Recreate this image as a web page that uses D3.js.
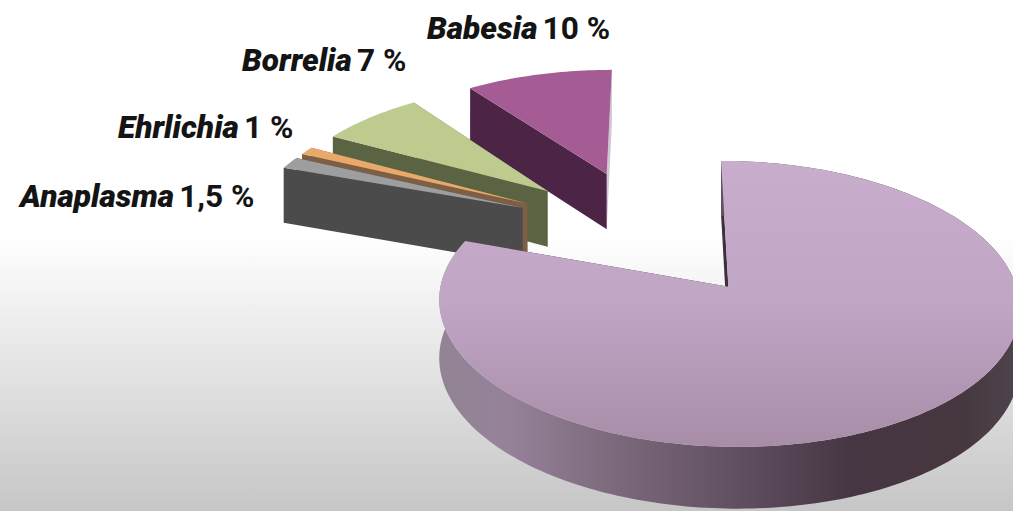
<!DOCTYPE html>
<html>
<head>
<meta charset="utf-8">
<script src="https://cdn.jsdelivr.net/npm/d3@7/dist/d3.min.js"></script>
<style>
  html, body { margin: 0; padding: 0; background: #fff; }
  svg { display: block; }
  text { font-family: Roboto, "Liberation Sans", sans-serif; font-weight: 900; fill: #141414; }
</style>
</head>
<body>
<svg id="chart" width="1013" height="511"></svg>
<script>
// Pathogen shares, clockwise from twelve o'clock
const categories = ["", "Anaplasma", "Ehrlichia", "Borrelia", "Babesia"];
const shares = [80.5, 1.5, 1, 7, 10];
const shareLabels = ["", "1,5 %", "1 %", "7 %", "10 %"];

const topColors = ["url(#topMain)", "#9c9ea0", "#e8a96a", "#bdcb8f", "#a55c94"];
const wallColors = ["#3f2f3c", "#4b4b4b", "#7c5f45", "#5a6443", "#4b2446"];
const endWallColors = ["#3f2f3c", "#5b4a44", "#7c5f45", "#686f4e", "#cfc7d4"];

const width = 1013, height = 511;

// Perspective camera over the ground plane of the pie
const vanishX = 660, horizonBase = 287, radiusX = 288, radiusY = 141, foreshorten = 0.119;
const pieCentre = [-0.05, -0.41], explode = 0.5, depth = 58;

const perspective = v => 1 / (1 - foreshorten * v);
const project = ([u, v], lowered = false) => {
  const w = perspective(v);
  return [vanishX + radiusX * u * w,
          horizonBase + radiusY * v * w + (lowered ? depth * Math.sqrt(w) : 0)];
};

const svg = d3.select("#chart");
const defs = svg.append("defs");

const addGradient = (id, attrs, stops) => {
  const g = defs.append("linearGradient").attr("id", id).attr("gradientUnits", "userSpaceOnUse");
  Object.entries(attrs).forEach(([k, v]) => g.attr(k, v));
  stops.forEach(([o, c]) => g.append("stop").attr("offset", o).attr("stop-color", c));
};
addGradient("backdrop", {x1: 0, x2: 0, y1: 235, y2: 511},
  [[0, "#ffffff"], [1, "#c6c6c6"]]);
addGradient("topMain", {x1: 0, x2: 0, y1: 161, y2: 447},
  [[0, "#c9adcd"], [0.5, "#c0a5c5"], [1, "#a88da8"]]);
addGradient("wallMain", {x1: 439, x2: 1013, y1: 0, y2: 0},
  [[0, "#928493"], [0.12, "#95829a"], [0.3, "#7d6a7c"], [0.5, "#635263"],
   [0.72, "#463643"], [0.9, "#45363f"], [1, "#4d434c"]]);

svg.append("rect").attr("width", width).attr("height", height).attr("fill", "url(#backdrop)");

const slices = d3.pie().sort(null).value(d => d).startAngle(0).endAngle(2 * Math.PI)(shares);

const outline = d3.line();
const closed = pts => outline(pts) + "Z";

// Slices are painted from the farthest to the nearest so nearer walls overlap
const paintOrder = [4, 3, 2, 1, 0];

paintOrder.forEach(i => {
  const s = slices[i];
  const mid = (s.startAngle + s.endAngle) / 2;
  const apex = [pieCentre[0] + explode * Math.sin(mid), pieCentre[1] - explode * Math.cos(mid)];
  const rim = a => [apex[0] + Math.sin(a), apex[1] - Math.cos(a)];
  const steps = Math.max(4, Math.ceil((s.endAngle - s.startAngle) / 0.02));
  const angles = d3.range(steps + 1).map(k => s.startAngle + (s.endAngle - s.startAngle) * k / steps);
  const group = svg.append("g").attr("class", "slice");

  // Radial wall at the far clockwise edge
  const end = rim(s.endAngle);
  group.append("path")
    .attr("d", closed([project(apex), project(end), project(end, true), project(apex, true)]))
    .attr("fill", endWallColors[i]);

  // Radial wall at the near edge
  const start = rim(s.startAngle);
  group.append("path")
    .attr("d", closed([project(apex), project(start), project(start, true), project(apex, true)]))
    .attr("fill", wallColors[i]);

  // Curved outer wall of the large slice
  if (i === 0) {
    const edge = angles.map(rim);
    group.append("path")
      .attr("d", closed(edge.map(p => project(p)).concat(edge.map(p => project(p, true)).reverse())))
      .attr("fill", "url(#wallMain)");
  }

  // Top face
  group.append("path")
    .attr("d", closed([project(apex)].concat(angles.map(a => project(rim(a))))))
    .attr("fill", topColors[i]);
});

// Text callouts
const calloutPlaces = [null, [20, 207], [118, 138], [242, 71], [427, 39]];
categories.forEach((name, i) => {
  if (!name) return;
  const [x, y] = calloutPlaces[i];
  const t = svg.append("text")
    .attr("transform", `translate(${x},${y}) scale(1.02,1)`)
    .attr("font-size", 31);
  t.append("tspan").attr("font-style", "italic").text(name);
  t.append("tspan").attr("dx", 5).attr("font-size", 31).attr("font-weight", 700).text(shareLabels[i]);
});
</script>
</body>
</html>
